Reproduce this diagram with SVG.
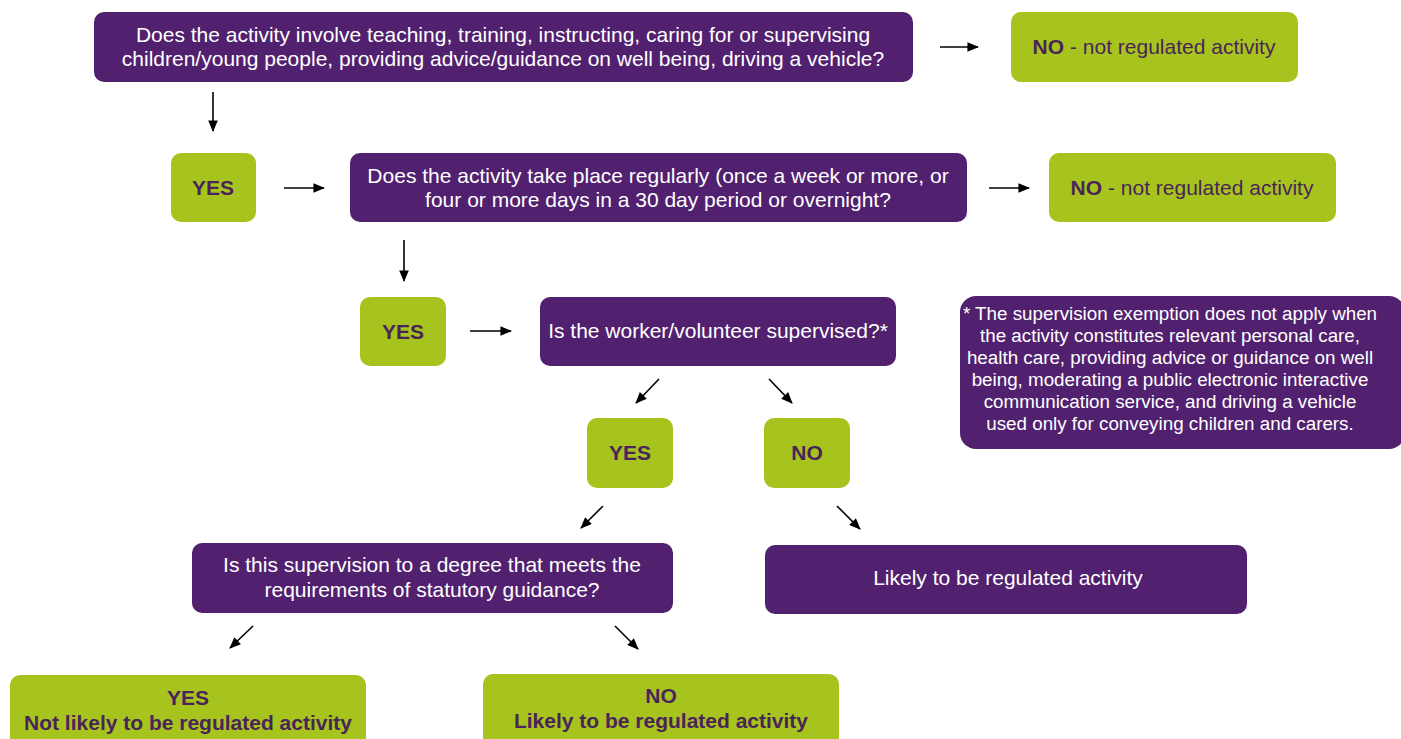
<svg xmlns="http://www.w3.org/2000/svg" width="1401" height="739" viewBox="0 0 1401 739">
<style>
.p{fill:#51216f}
.g{fill:#a6c41d}
.tw{fill:#ffffff;font-family:"Liberation Sans",Arial,sans-serif;font-size:21px;text-anchor:middle}
.tn{fill:#ffffff;font-family:"Liberation Sans",Arial,sans-serif;font-size:18.8px;text-anchor:middle}
.tg{fill:#4a2459;font-family:"Liberation Sans",Arial,sans-serif;font-size:21px;text-anchor:middle}
.b{font-weight:bold}
.c{stroke:#000;stroke-width:1.6;fill:none;marker-end:url(#ah)}
</style>
<defs>
<marker id="ah" viewBox="0 0 12 10" refX="11" refY="5" markerWidth="7.5" markerHeight="6" orient="auto" markerUnits="strokeWidth"><path d="M0,0 L12,5 L0,10 Z" fill="#000"/></marker>
</defs>
<rect width="1401" height="739" fill="#fff"/>
<g id="connectors">
<line class="c" x1="940" y1="47" x2="978" y2="47"/>
<line class="c" x1="213" y1="92" x2="213" y2="131"/>
<line class="c" x1="284" y1="188" x2="324" y2="188"/>
<line class="c" x1="989" y1="188" x2="1029" y2="188"/>
<line class="c" x1="404" y1="240" x2="404" y2="281"/>
<line class="c" x1="470" y1="331" x2="511" y2="331"/>
<line class="c" x1="659" y1="379" x2="636" y2="403"/>
<line class="c" x1="769" y1="379" x2="792" y2="403"/>
<line class="c" x1="603" y1="506" x2="581" y2="528"/>
<line class="c" x1="837" y1="506" x2="860" y2="529"/>
<line class="c" x1="253" y1="626" x2="230" y2="648"/>
<line class="c" x1="615" y1="626" x2="638" y2="649"/>
</g>
<g id="q1"><rect class="p" x="94" y="12" width="819" height="70" rx="10"/>
<text class="tw" x="503" y="42">Does the activity involve teaching, training, instructing, caring for or supervising</text>
<text class="tw" x="503" y="66">children/young people, providing advice/guidance on well being, driving a vehicle?</text></g>
<g id="no1"><rect class="g" x="1011" y="12" width="287" height="70" rx="10"/>
<text class="tg" x="1154" y="54"><tspan class="b">NO</tspan> - not regulated activity</text></g>
<g id="yes1"><rect class="g" x="171" y="153" width="85" height="69" rx="10"/>
<text class="tg b" x="213" y="195">YES</text></g>
<g id="q2"><rect class="p" x="350" y="153" width="617" height="69" rx="10"/>
<text class="tw" x="658" y="183">Does the activity take place regularly (once a week or more, or</text>
<text class="tw" x="658" y="207">four or more days in a 30 day period or overnight?</text></g>
<g id="no2"><rect class="g" x="1049" y="153" width="287" height="69" rx="10"/>
<text class="tg" x="1192" y="195"><tspan class="b">NO</tspan> - not regulated activity</text></g>
<g id="yes2"><rect class="g" x="360" y="297" width="86" height="69" rx="10"/>
<text class="tg b" x="403" y="339">YES</text></g>
<g id="q3"><rect class="p" x="540" y="297" width="356" height="69" rx="10"/>
<text class="tw" x="718" y="338">Is the worker/volunteer supervised?*</text></g>
<g id="note"><rect class="p" x="960" y="296" width="445" height="153" rx="16"/>
<text class="tn" x="1170" y="320">* The supervision exemption does not apply when</text>
<text class="tn" x="1170" y="342">the activity constitutes relevant personal care,</text>
<text class="tn" x="1170" y="364">health care, providing advice or guidance on well</text>
<text class="tn" x="1170" y="386">being, moderating a public electronic interactive</text>
<text class="tn" x="1170" y="408">communication service, and driving a vehicle</text>
<text class="tn" x="1170" y="430">used only for conveying children and carers.</text></g>
<g id="yes3"><rect class="g" x="587" y="418" width="86" height="70" rx="10"/>
<text class="tg b" x="630" y="460">YES</text></g>
<g id="no3"><rect class="g" x="764" y="418" width="86" height="70" rx="10"/>
<text class="tg b" x="807" y="460">NO</text></g>
<g id="q4"><rect class="p" x="192" y="543" width="481" height="70" rx="10"/>
<text class="tw" x="432" y="572">Is this supervision to a degree that meets the</text>
<text class="tw" x="432" y="597">requirements of statutory guidance?</text></g>
<g id="likely"><rect class="p" x="765" y="545" width="482" height="69" rx="10"/>
<text class="tw" x="1008" y="585">Likely to be regulated activity</text></g>
<g id="yes4"><rect class="g" x="10" y="675" width="356" height="80" rx="10"/>
<text class="tg b" x="188" y="705">YES</text>
<text class="tg b" x="188" y="730">Not likely to be regulated activity</text></g>
<g id="no4"><rect class="g" x="483" y="674" width="356" height="80" rx="10"/>
<text class="tg b" x="661" y="703">NO</text>
<text class="tg b" x="661" y="728">Likely to be regulated activity</text></g>
</svg>
